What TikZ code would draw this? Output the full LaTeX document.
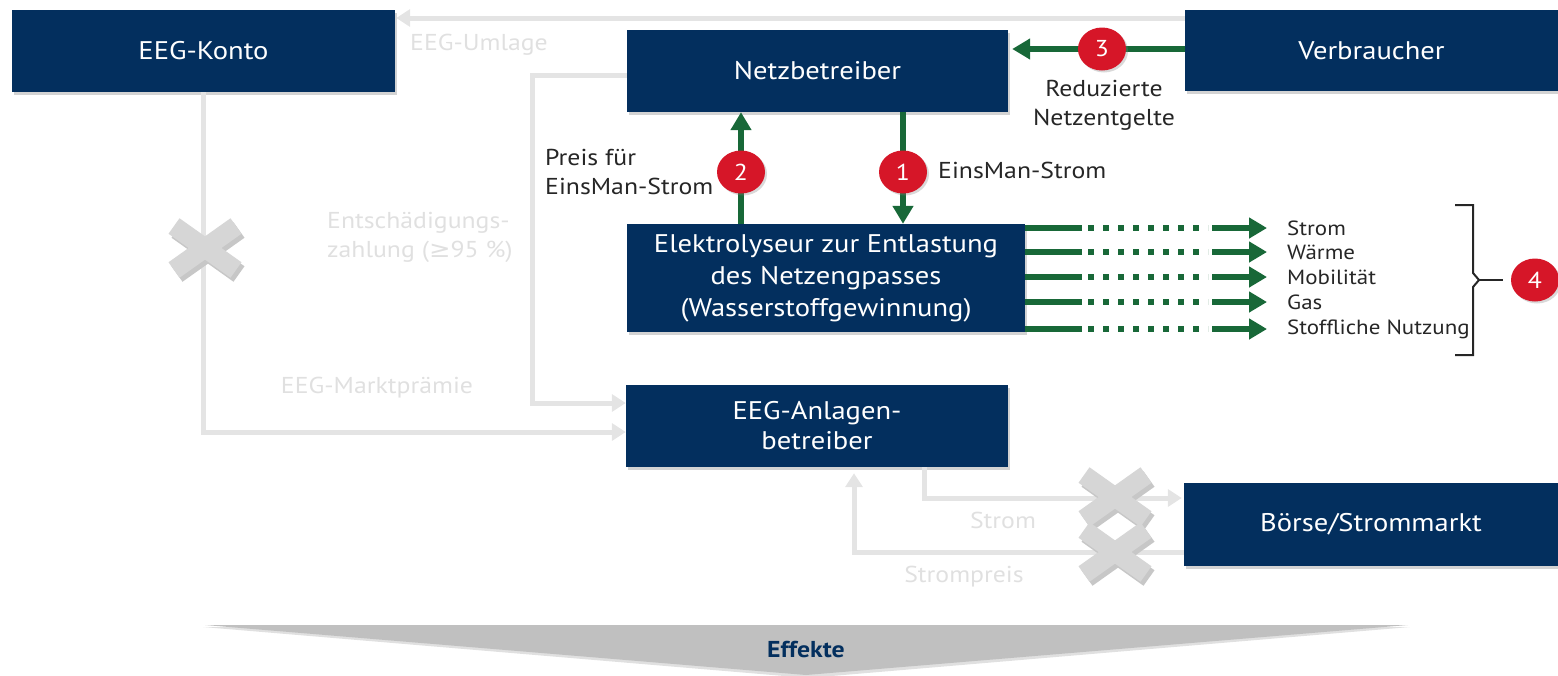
\documentclass[tikz,border=0pt]{standalone}
\usepackage{fontspec}
\setmainfont{PT Sans}[FakeStretch=1.12]
\newfontfamily\dejavu{DejaVu Sans}[FakeStretch=1.12]
\usetikzlibrary{arrows.meta,shadows,calc,shapes.geometric}
\definecolor{navy}{RGB}{3,47,94}
\definecolor{egreen}{RGB}{24,104,56}
\definecolor{ered}{RGB}{214,22,40}
\definecolor{lgray}{RGB}{228,228,228}
\definecolor{ltext}{RGB}{224,224,224}
\definecolor{xgray}{RGB}{214,214,214}
\definecolor{wedgegray}{RGB}{192,192,192}
\begin{document}
\begin{tikzpicture}[x=1pt,y=-1pt,
  box/.style={fill=navy, text=white, inner sep=0pt, align=center,
    font=\fontsize{25.5}{32}\selectfont,
    drop shadow={opacity=0.35, shadow xshift=2pt, shadow yshift=-3pt}},
  num/.style={ellipse, fill=ered, text=white, minimum width=48pt, minimum height=43pt, inner sep=0pt,
    font=\fontsize{23}{23}\selectfont,
    drop shadow={opacity=0.3, shadow xshift=2pt, shadow yshift=-2pt}},
  lbl/.style={text=black!85, inner sep=0pt, align=left, font=\fontsize{23}{29}\selectfont},
  olbl/.style={text=black!85, inner sep=0pt, anchor=west, font=\fontsize{20.5}{22}\selectfont},
  glbl/.style={text=ltext, inner sep=0pt, align=left, font=\fontsize{23}{29}\selectfont},
  gline/.style={draw=egreen, line width=6pt},
  garrow/.style={draw=egreen, line width=6pt, -{Triangle[length=18pt,width=20pt]}},
  gdots/.style={draw=egreen, line width=6pt, dash pattern=on 6pt off 9pt},
  grayarrow/.style={draw=lgray, line width=5pt, -{Triangle[length=14pt,width=17pt]}},
  crossmark/.pic={
    \draw[line width=19pt, black!22] (-28,-18)--(34,26) (-28,26)--(34,-18);
    \draw[line width=19pt, xgray] (-31,-22)--(31,22) (-31,22)--(31,-22);
  }]
\useasboundingbox (0,0) rectangle (1558,675);

% named helper coordinates
\coordinate (yUm) at (0,18);
\coordinate (y3) at (0,49);
\coordinate (x2) at (741,0);
\coordinate (x1) at (903,0);
\coordinate (yA1) at (0,403);
\coordinate (yA2) at (0,432);
\coordinate (cN) at (532,75);
\coordinate (yS) at (0,498);
\coordinate (xS) at (924,0);
\coordinate (yP) at (0,552);
\coordinate (xP) at (854,0);

% bottom wedge
\fill[black!12] (203,627) -- (1410,627) -- (808,678) -- cycle;
\fill[wedgegray] (205,625) -- (1408,625) -- (806,675) -- cycle;
\node[text=navy, font=\fontsize{23}{24}\selectfont\bfseries, inner sep=0pt] (eff) at (806,650) {Effekte};

% boxes
\node[box, minimum width=383pt, minimum height=82pt] (konto) at (203.5,51) {EEG-Konto};
\node[box, minimum width=373pt, minimum height=81pt] (verbr) at (1371.5,50.5) {Verbraucher};
\node[box, minimum width=381pt, minimum height=82pt] (netz) at (817.5,71) {Netzbetreiber};
\node[box, minimum width=398pt, minimum height=108pt] (elek) at (826,278) {Elektrolyseur zur Entlastung\\des Netzengpasses\\(Wasserstoffgewinnung)};
\node[box, minimum width=382pt, minimum height=82pt, font=\fontsize{25.5}{30}\selectfont] (anl) at (817,426) {EEG-Anlagen-\\betreiber};
\node[box, minimum width=374pt, minimum height=83pt] (boerse) at (1371,524.5) {Börse/Strommarkt};

% gray connectors
\draw[grayarrow, shorten >=1pt] (verbr.west |- yUm) -- (konto.east |- yUm);
\draw[grayarrow] (netz.west |- cN) -- (cN) |- (anl.west |- yA1);
\draw[grayarrow] (konto.south) |- (anl.west |- yA2);
\draw[grayarrow, shorten >=2pt] (anl.south -| xS) |- (boerse.west |- yS);
\draw[grayarrow, shorten >=6pt] (boerse.west |- yP) -| (anl.south -| xP);

% gray labels
\node[glbl, anchor=west] (lUm) at (410,45) {EEG-Umlage};
\node[glbl, anchor=west] (lEnt) at (327,237) {Entschädigungs-\\zahlung ({\dejavu ≥}95 \%)};
\node[glbl] (lMP) at (377,388) {EEG-Marktprämie};
\node[glbl] (lStr) at (1003,520) {Strom};
\node[glbl] (lSP) at (964,577) {Strompreis};

% crosses
\pic at (205,248) {crossmark};
\pic at (1115,497) {crossmark};
\pic at (1115,552) {crossmark};

% green connectors
\draw[garrow, shorten >=4pt] (verbr.west |- y3) -- (netz.east |- y3);
\node[num] (n3) at (1102,49) {3};
\node[lbl, align=center] (l3) at (1104,105) {Reduzierte\\Netzentgelte};

\draw[garrow] (elek.north -| x2) -- (netz.south -| x2);
\node[num] (n2) at (741,172) {2};
\node[lbl, anchor=west] (l2) at (545,172) {Preis für\\EinsMan-Strom};

\draw[garrow] (netz.south -| x1) -- (elek.north -| x1);
\node[num] (n1) at (903,172) {1};
\node[lbl, anchor=west] (l1) at (938,170) {EinsMan-Strom};

% output arrows
\foreach \yy/\txt [count=\k] in {228/Strom, 252/Wärme, 277/Mobilität, 302/Gas, 329/Stoffliche Nutzung}{
  \node[olbl] (o\k) at (1287,\yy) {\txt};
  \coordinate (oy\k) at (0,\yy);
  \draw[gline] (elek.east |- oy\k) -- (1082,\yy);
  \draw[gdots] (1088,\yy) -- (1208,\yy);
  \draw[garrow, shorten >=20pt] (1212,\yy) -- (o\k.west);
}

% bracket and 4
\draw[black!85, line width=2pt] (1455,205) -- (1473,205) -- (1473,273) -- (1479,280) -- (1473,287) -- (1473,355) -- (1455,355);
\draw[black!85, line width=2pt] (1479,280) -- (1503,280);
\node[num] (n4) at (1535,280) {4};
\end{tikzpicture}
\end{document}
